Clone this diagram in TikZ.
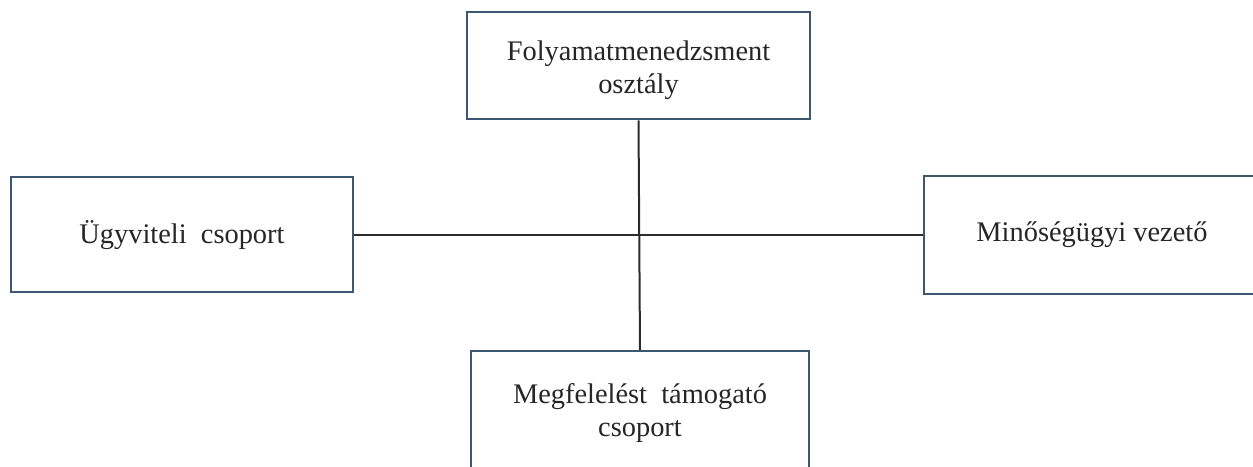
\documentclass[tikz,border=0pt]{standalone}
\usepackage{fontspec}
\setmainfont{Liberation Serif}
\definecolor{boxedge}{HTML}{3E5670}
\definecolor{linkline}{HTML}{2B2B2B}
\definecolor{labeltext}{HTML}{262626}
\begin{document}
\begin{tikzpicture}[x=1bp,y=-1bp,
  unitbox/.style={draw=boxedge, line width=2bp, fill=white, rectangle,
    inner sep=0pt, align=center, text=labeltext,
    font=\fontsize{28.5}{33}\selectfont},
  link/.style={draw=linkline, line width=2bp}]
  \useasboundingbox (0,0) rectangle (1253,467);
  \clip (0,0) rectangle (1253,467);
  % organisational units
  \node[unitbox, minimum width=343bp, minimum height=107bp] (top) at (638.5,66)
    {\rule{0pt}{29bp}Folyamatmenedzsment\\osztály};
  \node[unitbox, minimum width=342bp, minimum height=115bp] (left) at (182,235)
    {Ügyviteli\ \ csoport};
  \node[unitbox, minimum width=336bp, minimum height=118bp] (right) at (1092,235)
    {Minőségügyi vezető};
  \node[unitbox, minimum width=338bp, minimum height=124bp] (bottom) at (640,413)
    {Megfelelést\ \ támogató\\csoport};
  % cross of connecting lines
  \draw[link] (top.south) -- (bottom.north);
  \draw[link] (left.east) -- (right.west);
\end{tikzpicture}
\end{document}
